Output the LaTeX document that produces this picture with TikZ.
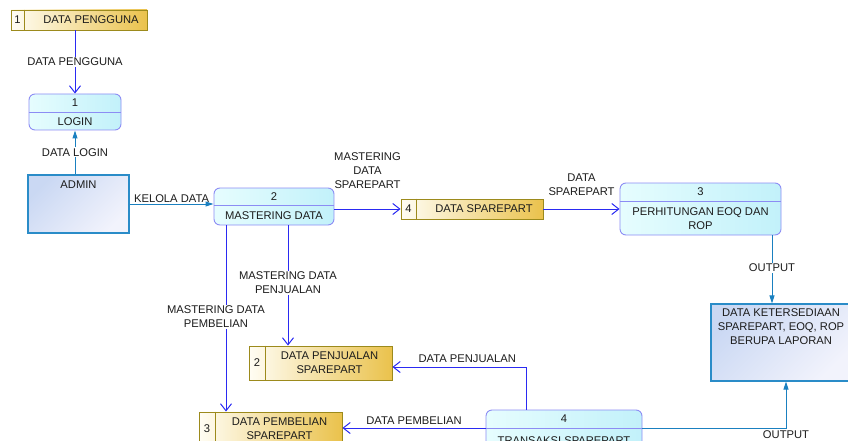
\documentclass[tikz,border=0pt]{standalone}
\usepackage{fontspec}
\setmainfont{Liberation Sans}
\usetikzlibrary{arrows.meta}

\definecolor{storeline}{HTML}{9C8A1C}
\definecolor{storelight}{HTML}{FFFDF4}
\definecolor{storegold}{HTML}{EAC24C}
\definecolor{procline}{HTML}{8C8CF4}
\definecolor{proclight}{HTML}{E6FDFE}
\definecolor{procdark}{HTML}{C2F1FA}
\definecolor{entline}{HTML}{2A8CC8}
\definecolor{entdark}{HTML}{CAD8F3}
\definecolor{entlight}{HTML}{F2F3FC}
\definecolor{flowblue}{HTML}{2A2AF2}
\definecolor{outteal}{HTML}{1A80C0}
\definecolor{txt}{HTML}{1C1C1C}

\begin{document}
\begin{tikzpicture}[x=1pt, y=-1pt, font=\fontsize{11.2}{14}\selectfont, text=txt, store/.style={draw=storeline, line width=0.9pt, left color=storelight, right color=storegold, inner sep=0pt}, proc/.style={draw=procline, line width=0.9pt, rounded corners=6pt, left color=proclight, right color=procdark, inner sep=0pt}, ent/.style={draw=entline, line width=1.1pt, shading=axis, top color=entdark, bottom color=entlight, shading angle=45, inner sep=0pt}, flow/.style={draw=flowblue, line width=1pt, -{Straight Barb[length=7pt,width=11pt]}}, outflow/.style={draw=outteal, line width=1pt, -{Triangle[length=8pt,width=5pt]}}, lbl/.style={fill=white, inner sep=1pt, align=center}, note/.style={align=center, inner sep=1pt}]

\clip (0,0) rectangle (848,441);

% data stores
\node[store, minimum width=136, minimum height=20] (ds1) at (79,20) {}; \draw[storeline, line width=0.9pt] ([xshift=14pt]ds1.north west)--([xshift=14pt]ds1.south west);
\node at ([xshift=7pt]ds1.west) {1}; \node at ([xshift=12pt]ds1.center) {DATA PENGGUNA};
\node[store, minimum width=142, minimum height=20] (ds4) at (472,209) {}; \draw[storeline, line width=0.9pt] ([xshift=16pt]ds4.north west)--([xshift=16pt]ds4.south west);
\node at ([xshift=8pt]ds4.west) {4}; \node at ([xshift=12pt]ds4.center) {DATA SPAREPART};
\node[store, minimum width=143, minimum height=34] (ds2) at (320.5,363) {}; \draw[storeline, line width=0.9pt] ([xshift=17pt]ds2.north west)--([xshift=17pt]ds2.south west);
\node at ([xshift=8.5pt]ds2.west) {2}; \node[note] at ([xshift=9pt]ds2.center) {DATA PENJUALAN\\SPAREPART};
\node[store, minimum width=143, minimum height=34] (ds3) at (270.5,429) {}; \draw[storeline, line width=0.9pt] ([xshift=17pt]ds3.north west)--([xshift=17pt]ds3.south west);
\node at ([xshift=8.5pt]ds3.west) {3}; \node[note] at ([xshift=9pt]ds3.center) {DATA PEMBELIAN\\SPAREPART};

% processes
\node[proc, minimum width=92, minimum height=36] (login) at (75,112) {}; \draw[procline, line width=0.9pt] ([yshift=-19pt]login.north west)--([yshift=-19pt]login.north east);
\node at ([yshift=-9.5pt]login.north) {1}; \node at ([yshift=9pt]login.south) {LOGIN};
\node[proc, minimum width=120, minimum height=37] (mast) at (274,206.5) {}; \draw[procline, line width=0.9pt] ([yshift=-18pt]mast.north west)--([yshift=-18pt]mast.north east);
\node at ([yshift=-9pt]mast.north) {2}; \node at ([yshift=9.5pt]mast.south) {MASTERING DATA};
\node[proc, minimum width=161, minimum height=52] (hitung) at (700.5,209) {}; \draw[procline, line width=0.9pt] ([yshift=-19pt]hitung.north west)--([yshift=-19pt]hitung.north east);
\node at ([yshift=-9.5pt]hitung.north) {3}; \node[note] at ([yshift=17pt]hitung.south) {PERHITUNGAN EOQ DAN\\ROP};
\node[proc, minimum width=156, minimum height=40] (trans) at (564,430) {}; \draw[procline, line width=0.9pt] ([yshift=-19pt]trans.north west)--([yshift=-19pt]trans.north east);
\node at ([yshift=-9.5pt]trans.north) {4}; \node at ([yshift=10pt]trans.south) {TRANSAKSI SPAREPART};

% entities
\node[ent, minimum width=101, minimum height=58] (admin) at (78.5,204) {}; \node at ([yshift=-10pt]admin.north) {ADMIN};
\node[ent, minimum width=140, minimum height=77] (lap) at (781,342.5) {}; \node[note, anchor=north] at ([yshift=-4pt]lap.north) {DATA KETERSEDIAAN\\SPAREPART, EOQ, ROP\\BERUPA LAPORAN};

% flows
\draw[flow] (ds1.south -| login.north)--(login.north) node[lbl, pos=0.5] {DATA PENGGUNA};
\draw[outflow] (admin.north -| login.south)--(login.south) node[lbl, pos=0.5] {DATA LOGIN};
\draw[outflow] (admin.east)--(admin.east -| mast.west) node[note, midway, above] {KELOLA DATA};
\draw[flow] (mast.east |- ds4.west)--(ds4.west) node[note, midway, above=19pt] {MASTERING\\DATA\\SPAREPART};
\draw[flow] (ds4.east |- hitung.west)--(hitung.west) node[note, midway, above=12pt] {DATA\\SPAREPART};
\draw[outflow] ([xshift=71.5pt]hitung.south)--([xshift=-9pt]lap.north) node[lbl, pos=0.48] {OUTPUT};
\draw[outflow] (trans.east |- 0,428)-|([xshift=5pt]lap.south) node[note, pos=0.5, below=1pt] {OUTPUT};
\draw[flow] ([xshift=-38pt]trans.north)|-([yshift=-4pt]ds2.east) node[note, pos=0.72, above=3pt] {DATA PENJUALAN};
\draw[flow] (trans.west |- 0,428)--(ds3.east |- 0,428) node[note, midway, above=2pt] {DATA PEMBELIAN};
\draw[flow] ([xshift=-48pt]mast.south)--([xshift=-48pt]mast.south |- ds3.north) node[lbl, pos=0.49, xshift=-10pt] {MASTERING DATA\\PEMBELIAN};
\draw[flow] ([xshift=14pt]mast.south)--([xshift=14pt]mast.south |- ds2.north) node[lbl, pos=0.48] {MASTERING DATA\\PENJUALAN};
\end{tikzpicture}
\end{document}
